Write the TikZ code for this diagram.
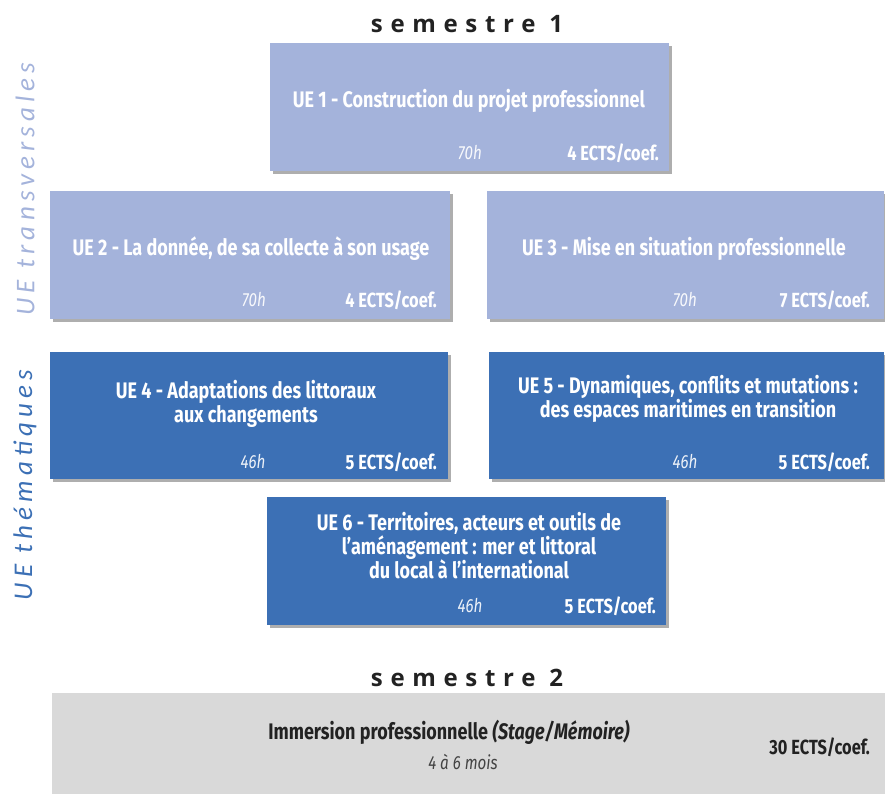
\documentclass[tikz,border=0pt]{standalone}
\usepackage{fontspec}
\setmainfont{Fira Sans}[FakeStretch=0.80]
\newfontfamily\semfont{Open Sans}[LetterSpace=32]
\newfontfamily\vfont{Carlito}[LetterSpace=19]
\usetikzlibrary{shadows,positioning}
\definecolor{lightue}{HTML}{A4B3DB}
\definecolor{darkue}{HTML}{3C70B5}
\definecolor{grayue}{HTML}{D9D9D9}
\definecolor{inktext}{HTML}{222222}
\tikzset{
  uebox/.style={rectangle, inner sep=0pt, draw=none, drop shadow={shadow xshift=2.5pt, shadow yshift=-3pt, opacity=0.45, fill=black!70}},
  lightbox/.style={uebox, fill=lightue},
  darkbox/.style={uebox, fill=darkue},
  uetitle/.style={text=white, font=\bfseries\fontsize{22.5}{24}\selectfont, align=center, inner sep=0pt},
  uehours/.style={text=white!92!lightue, font=\itshape\fontsize{19}{21}\selectfont, inner sep=0pt},
  ueects/.style={text=white, font=\bfseries\fontsize{20.5}{22}\selectfont, inner sep=0pt, anchor=east},
  semtitle/.style={text=inktext, font=\semfont\bfseries\fontsize{24}{26}\selectfont, inner sep=0pt},
  sidelabel/.style={font=\vfont\itshape\fontsize{27}{29}\selectfont, rotate=90, inner sep=0pt}
}
\begin{document}
\begin{tikzpicture}[x=1pt,y=-1pt]
\useasboundingbox (0,0) rectangle (885,794);
% semester titles
\node[semtitle] (s1) at (467,24) {semestre 1};
\node[semtitle] (s2) at (467,678) {semestre 2};
% side labels
\node[sidelabel, text=lightue] (lt) at (25,189) {UE transversales};
\node[sidelabel, text=darkue] (lth) at (25,485) {UE thématiques};
% boxes
\node[lightbox, minimum width=399pt, minimum height=128pt] (ue1) at (469.5,107) {};
\node[lightbox, minimum width=400pt, minimum height=128pt] (ue2) at (250,255) {};
\node[lightbox, minimum width=397pt, minimum height=128pt] (ue3) at (685.5,255) {};
\node[darkbox, minimum width=398pt, minimum height=127pt] (ue4) at (249,415.5) {};
\node[darkbox, minimum width=395pt, minimum height=127pt] (ue5) at (686.5,415.5) {};
\node[darkbox, minimum width=399pt, minimum height=128pt] (ue6) at (466.5,561) {};
\node[rectangle, fill=grayue, minimum width=840pt, minimum height=110pt, inner sep=0pt] (stage) at (472,748) {};
% titles
\node[uetitle] (t1) at (469,101) {UE 1 - Construction du projet professionnel};
\node[uetitle] (t2) at (251,249) {UE 2 - La donnée, de sa collecte à son usage};
\node[uetitle] (t3) at (684,249) {UE 3 - Mise en situation professionnelle};
\node[uetitle] (t4) at (246,404) {UE 4 - Adaptations des littoraux\\aux changements};
\node[uetitle] (t5) at (688,399) {UE 5 - Dynamiques, conflits et mutations :\\des espaces maritimes en transition};
\node[uetitle] (t6) at (469,546) {UE 6 - Territoires, acteurs et outils de\\l’aménagement : mer et littoral\\du local à l’international};
% hours
\node[uehours] (h1) at (470,153) {70h};
\node[uehours] (h2) at (254,300) {70h};
\node[uehours] (h3) at (685,300) {70h};
\node[uehours, text=white!90!darkue] (h4) at (253,462) {46h};
\node[uehours, text=white!90!darkue] (h5) at (685,462) {46h};
\node[uehours, text=white!90!darkue] (h6) at (470,606) {46h};
% ECTS
\node[ueects] (e1) at (659,153) {4 ECTS/coef.};
\node[ueects] (e2) at (437,300) {4 ECTS/coef.};
\node[ueects] (e3) at (870,300) {7 ECTS/coef.};
\node[ueects] (e4) at (437,462) {5 ECTS/coef.};
\node[ueects] (e5) at (870,462) {5 ECTS/coef.};
\node[ueects] (e6) at (656,606) {5 ECTS/coef.};
% stage box text
\node[uetitle, text=inktext] (st) at (449,732) {Immersion professionnelle \textit{(Stage/Mémoire)}};
\node[uehours, text=inktext!85] (sm) at (463,762) {4 à 6 mois};
\node[ueects, text=inktext] (se) at (870,747) {30 ECTS/coef.};
\end{tikzpicture}
\end{document}
